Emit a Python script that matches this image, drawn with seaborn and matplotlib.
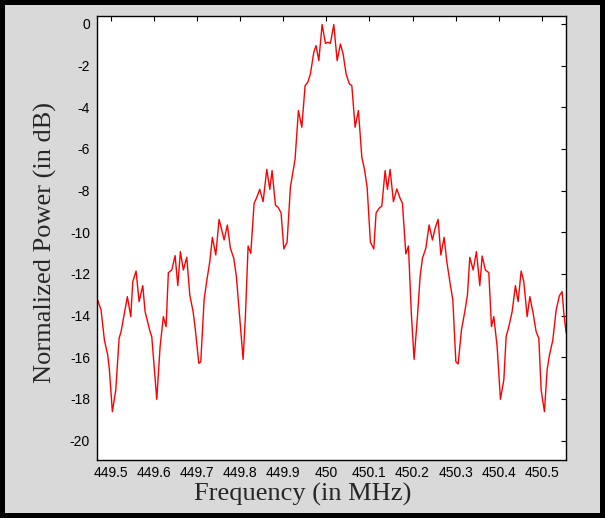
import numpy as np
import pandas as pd
import matplotlib
matplotlib.use("Agg")
import matplotlib.pyplot as plt
import seaborn as sns

freq = [449.4682, 449.4775, 449.4852, 449.4930, 449.4968, 449.5037, 449.5116, 449.5193,
        449.5239, 449.5316, 449.5385, 449.5464, 449.5510, 449.5587, 449.5657, 449.5742,
        449.5796, 449.5912, 449.5951, 449.6067, 449.6144, 449.6220, 449.6283, 449.6336,
        449.6415, 449.6492, 449.6555, 449.6615, 449.6684, 449.6763, 449.6833, 449.6910,
        449.6963, 449.7042, 449.7088, 449.7165, 449.7218, 449.7297, 449.7357, 449.7436,
        449.7513, 449.7566, 449.7629, 449.7705, 449.7775, 449.7854, 449.7914, 449.7993,
        449.8070, 449.8123, 449.8186, 449.8248, 449.8325, 449.8378, 449.8457, 449.8534,
        449.8619, 449.8689, 449.8742, 449.8819, 449.8882, 449.8951, 449.9014, 449.9090,
        449.9167, 449.9276, 449.9353, 449.9432, 449.9508, 449.9571, 449.9631, 449.9710,
        449.9763, 449.9826, 449.9903, 449.9979, 450.0035, 450.0095, 450.0174, 450.0251,
        450.0327, 450.0390, 450.0459, 450.0536, 450.0592, 450.0668, 450.0745, 450.0824,
        450.0884, 450.0947, 450.1023, 450.1102, 450.1155, 450.1225, 450.1288, 450.1364,
        450.1418, 450.1480, 450.1557, 450.1636, 450.1712, 450.1766, 450.1845, 450.1905,
        450.1974, 450.2037, 450.2114, 450.2176, 450.2230, 450.2309, 450.2385, 450.2462,
        450.2524, 450.2594, 450.2657, 450.2733, 450.2796, 450.2872, 450.2935, 450.3005,
        450.3058, 450.3135, 450.3213, 450.3274, 450.3329, 450.3406, 450.3483, 450.3561,
        450.3615, 450.3691, 450.3770, 450.3831, 450.3886, 450.3963, 450.4039, 450.4118,
        450.4172, 450.4234, 450.4311, 450.4387, 450.4450, 450.4520, 450.4582, 450.4659,
        450.4722, 450.4798, 450.4868, 450.4930, 450.4984, 450.5060, 450.5123, 450.5176,
        450.5255, 450.5332, 450.5408, 450.5471, 450.5510, 450.5564]

power_db = [-13.17, -13.73, -15.17, -15.90, -16.60, -18.61, -17.57, -15.09,
            -14.77, -13.89, -13.09, -14.05, -12.37, -11.86, -13.33, -12.56,
            -13.81, -14.77, -15.01, -18.02, -15.49, -14.05, -14.53, -11.94,
            -11.81, -11.12, -12.56, -10.93, -11.81, -11.20, -13.01, -13.81,
            -14.69, -16.29, -16.21, -13.25, -12.45, -11.41, -10.24, -11.09,
            -9.38, -9.81, -10.37, -9.65, -10.77, -11.25, -12.13, -14.13,
            -16.10, -14.05, -10.66, -11.01, -8.61, -8.37, -7.94, -8.53,
            -6.98, -7.94, -7.04, -8.69, -8.80, -9.07, -10.80, -10.48,
            -7.84, -6.48, -4.16, -4.96, -2.96, -2.80, -2.40, -1.36,
            -1.04, -1.76, -0.03, -0.93, -0.88, -0.93, -0.03, -1.76,
            -0.96, -1.44, -2.40, -2.88, -2.96, -4.96, -4.16, -6.40,
            -6.96, -7.84, -10.48, -10.80, -9.07, -8.85, -8.74, -7.04,
            -7.94, -6.98, -8.53, -7.92, -8.37, -8.61, -11.04, -10.66,
            -13.97, -16.10, -14.05, -12.13, -11.25, -10.77, -9.65, -10.37,
            -9.81, -9.38, -11.09, -10.24, -11.41, -12.45, -13.25, -16.21,
            -16.32, -14.69, -13.81, -13.01, -11.20, -11.81, -10.93, -12.56,
            -11.14, -11.81, -11.94, -14.53, -14.05, -15.49, -18.02, -17.09,
            -15.01, -14.53, -13.81, -12.56, -13.33, -11.86, -12.37, -14.05,
            -13.09, -13.89, -14.77, -15.09, -17.57, -18.61, -16.60, -15.90,
            -15.17, -13.73, -13.04, -12.85, -13.89, -14.83]

x_ticks = [449.5, 449.6, 449.7, 449.8, 449.9, 450.0, 450.1, 450.2, 450.3, 450.4, 450.5]
x_tick_labels = ["449.5", "449.6", "449.7", "449.8", "449.9", "450",
                 "450.1", "450.2", "450.3", "450.4", "450.5"]
y_ticks = [0, -2, -4, -6, -8, -10, -12, -14, -16, -18, -20]

df = pd.DataFrame({"freq": freq, "power": power_db})

sns.set_style("white")
plt.rcParams["font.family"] = ["Liberation Sans", "DejaVu Sans"]
plt.rcParams["axes.unicode_minus"] = False

fig = plt.figure(figsize=(6.05, 5.18), dpi=100)
fig.patch.set_facecolor("#d9d9d9")
fig.patch.set_edgecolor("black")
fig.patch.set_linewidth(7)

ax = fig.add_axes([0.1603, 0.112, 0.7752, 0.8571])
ax.set_facecolor("white")

sns.lineplot(data=df, x="freq", y="power", color="red", linewidth=1.0,
             estimator=None, sort=False, ax=ax)

ax.set_xlim(449.468, 450.556)
ax.set_ylim(-20.93, 0.38)
ax.set_xticks(x_ticks)
ax.set_xticklabels(x_tick_labels)
ax.set_yticks(y_ticks)
ax.set_yticklabels([str(v) for v in y_ticks])

ax.tick_params(direction="in", length=3.5, width=0.8, top=True, right=True,
               labelsize=10, colors="black")
ax.tick_params(axis="x", pad=4)
ax.tick_params(axis="y", pad=5)
for s in ax.spines.values():
    s.set_visible(True)
    s.set_color("black")
    s.set_linewidth(1.0)

ax.set_xlabel("Frequency (in MHz)", family=["Liberation Serif"], fontsize=19)
ax.xaxis.set_label_coords(0.439, -0.052, transform=ax.transAxes)
ax.xaxis.label.set_verticalalignment("top")
ax.set_ylabel("Normalized Power (in dB)", family=["Liberation Serif"], fontsize=19)
ax.yaxis.set_label_coords(-0.0845, 0.489, transform=ax.transAxes)

fig.savefig("out.png", dpi=100, facecolor=fig.get_facecolor(), edgecolor=fig.get_edgecolor())
